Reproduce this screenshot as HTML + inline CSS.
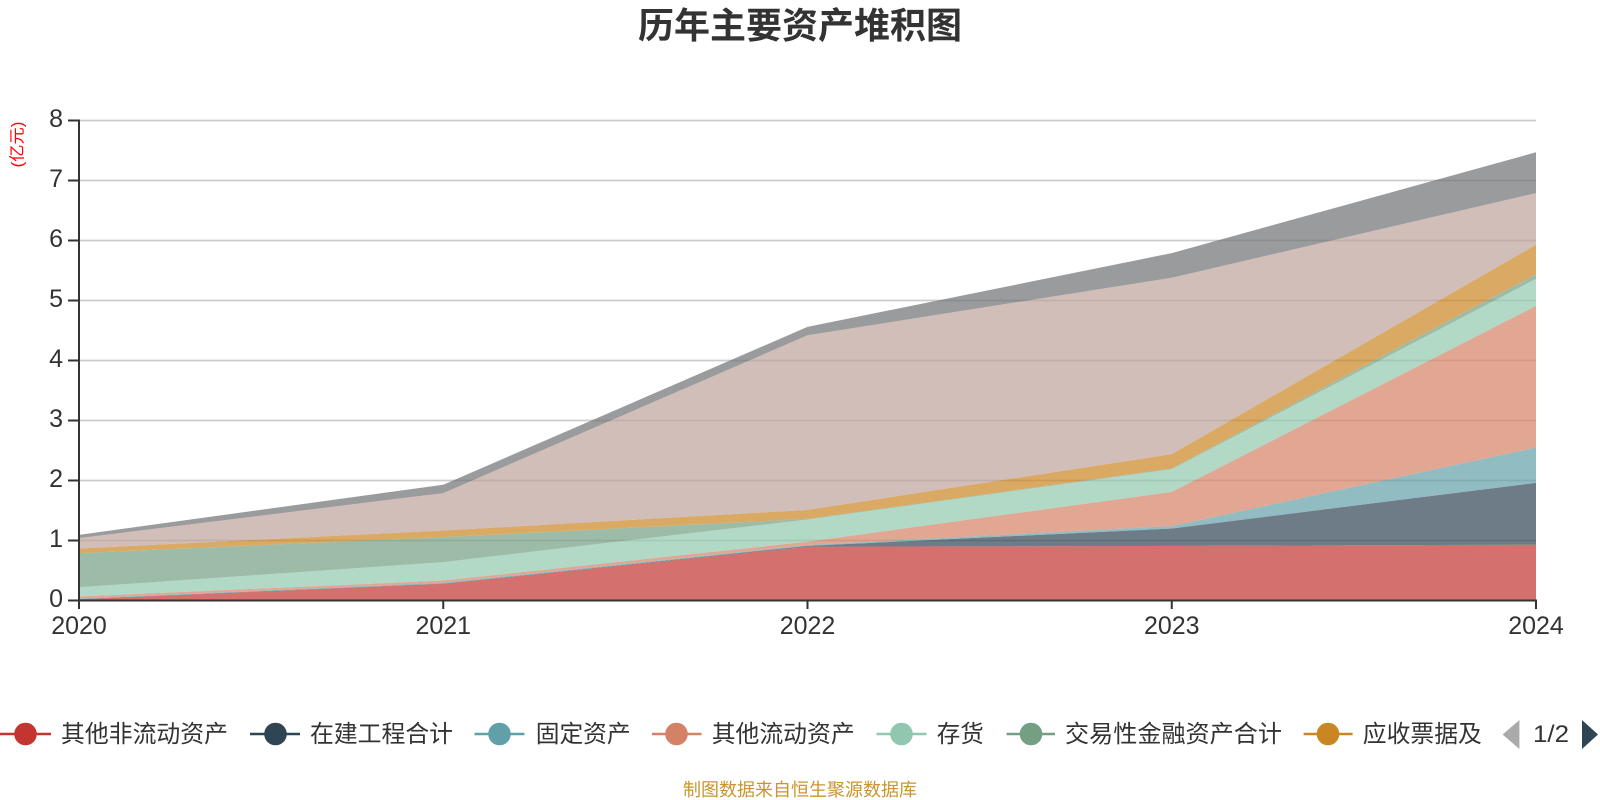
<!DOCTYPE html>
<html><head><meta charset="utf-8"><style>
html,body{margin:0;padding:0;background:#fff;}
svg{display:block;}
</style></head><body>
<svg width="1600" height="800" viewBox="0 0 1600 800" xmlns="http://www.w3.org/2000/svg">
<rect width="1600" height="800" fill="#fff"/>
<text x="800" y="38" text-anchor="middle" font-family="'Liberation Sans','Noto Sans CJK SC',sans-serif" font-size="36" font-weight="bold" fill="#333">历年主要资产堆积图</text>
<text transform="translate(22.5,144.5) rotate(-90)" text-anchor="middle" font-family="'Liberation Sans','Noto Sans CJK SC',sans-serif" font-size="16" fill="#ff0000" textLength="46" lengthAdjust="spacingAndGlyphs">(亿元)</text>
<g stroke="#ccc" stroke-width="1.8">
<line x1="79" y1="120.5" x2="1536" y2="120.5"/>
<line x1="79" y1="180.5" x2="1536" y2="180.5"/>
<line x1="79" y1="240.5" x2="1536" y2="240.5"/>
<line x1="79" y1="300.5" x2="1536" y2="300.5"/>
<line x1="79" y1="360.5" x2="1536" y2="360.5"/>
<line x1="79" y1="420.5" x2="1536" y2="420.5"/>
<line x1="79" y1="480.5" x2="1536" y2="480.5"/>
<line x1="79" y1="540.5" x2="1536" y2="540.5"/>
</g>
<g fill-opacity="0.7" stroke="none">
<polygon fill="#c23531" points="79,599.3 443.25,583.8 807.5,546.7 1171.75,545.9 1536,544.7 1536,600.5 79,600.5"/>
<polygon fill="#2f4554" points="79,599.0 443.25,583.5 807.5,545.9 1171.75,528.5 1536,482.9 1536,544.7 1171.75,545.9 807.5,546.7 443.25,583.8 79,599.3"/>
<polygon fill="#61a0a8" points="79,598.5 443.25,582.5 807.5,545.0 1171.75,526.1 1536,447.5 1536,482.9 1171.75,528.5 807.5,545.9 443.25,583.5 79,599.0"/>
<polygon fill="#d48265" points="79,596.5 443.25,580.5 807.5,541.7 1171.75,491.9 1536,305.9 1536,447.5 1171.75,526.1 807.5,545.0 443.25,582.5 79,598.5"/>
<polygon fill="#91c7ae" points="79,587.3 443.25,562.1 807.5,519.5 1171.75,469.1 1536,278.9 1536,305.9 1171.75,491.9 807.5,541.7 443.25,580.5 79,596.5"/>
<polygon fill="#749f83" points="79,553.1 443.25,537.1 807.5,518.9 1171.75,468.5 1536,274.1 1536,278.9 1171.75,469.1 807.5,519.5 443.25,562.1 79,587.3"/>
<polygon fill="#ca8622" points="79,548.5 443.25,530.5 807.5,509.9 1171.75,454.1 1536,244.7 1536,274.1 1171.75,468.5 807.5,518.9 443.25,537.1 79,553.1"/>
<polygon fill="#bda29a" points="79,538.1 443.25,493.1 807.5,335.3 1171.75,277.7 1536,193.1 1536,244.7 1171.75,454.1 807.5,509.9 443.25,530.5 79,548.5"/>
<polygon fill="#6e7074" points="79,534.9 443.25,484.7 807.5,326.9 1171.75,253.1 1536,152.3 1536,193.1 1171.75,277.7 807.5,335.3 443.25,493.1 79,538.1"/>
</g>
<g stroke="#333" stroke-width="2" fill="none">
<line x1="79" y1="119.5" x2="79" y2="601.5"/>
<line x1="78" y1="600.5" x2="1537" y2="600.5"/>
<line x1="68" y1="120.5" x2="79" y2="120.5"/>
<line x1="68" y1="180.5" x2="79" y2="180.5"/>
<line x1="68" y1="240.5" x2="79" y2="240.5"/>
<line x1="68" y1="300.5" x2="79" y2="300.5"/>
<line x1="68" y1="360.5" x2="79" y2="360.5"/>
<line x1="68" y1="420.5" x2="79" y2="420.5"/>
<line x1="68" y1="480.5" x2="79" y2="480.5"/>
<line x1="68" y1="540.5" x2="79" y2="540.5"/>
<line x1="68" y1="600.5" x2="79" y2="600.5"/>
<line x1="79" y1="600.5" x2="79" y2="609"/>
<line x1="443.25" y1="600.5" x2="443.25" y2="609"/>
<line x1="807.5" y1="600.5" x2="807.5" y2="609"/>
<line x1="1171.75" y1="600.5" x2="1171.75" y2="609"/>
<line x1="1536" y1="600.5" x2="1536" y2="609"/>
</g>
<g font-family="'Liberation Sans','Noto Sans CJK SC',sans-serif" font-size="25" fill="#333" text-anchor="end">
<text x="63" y="127">8</text>
<text x="63" y="187">7</text>
<text x="63" y="247">6</text>
<text x="63" y="307">5</text>
<text x="63" y="367">4</text>
<text x="63" y="427">3</text>
<text x="63" y="487">2</text>
<text x="63" y="547">1</text>
<text x="63" y="607">0</text>
</g>
<g font-family="'Liberation Sans','Noto Sans CJK SC',sans-serif" font-size="25" fill="#333" text-anchor="middle">
<text x="79" y="634">2020</text>
<text x="443.25" y="634">2021</text>
<text x="807.5" y="634">2022</text>
<text x="1171.75" y="634">2023</text>
<text x="1536" y="634">2024</text>
</g>
<g stroke-width="2.5">
<line x1="0" y1="734" x2="51" y2="734" stroke="#c23531"/>
<circle cx="25.5" cy="734" r="11.3" fill="#c23531"/>
<line x1="250" y1="734" x2="300" y2="734" stroke="#2f4554"/>
<circle cx="275.5" cy="734" r="11.3" fill="#2f4554"/>
<line x1="474.5" y1="734" x2="524.5" y2="734" stroke="#61a0a8"/>
<circle cx="499.5" cy="734" r="11.3" fill="#61a0a8"/>
<line x1="652" y1="734" x2="701.5" y2="734" stroke="#d48265"/>
<circle cx="676.5" cy="734" r="11.3" fill="#d48265"/>
<line x1="876.5" y1="734" x2="926.5" y2="734" stroke="#91c7ae"/>
<circle cx="901.5" cy="734" r="11.3" fill="#91c7ae"/>
<line x1="1006.6" y1="734" x2="1055" y2="734" stroke="#749f83"/>
<circle cx="1031" cy="734" r="11.3" fill="#749f83"/>
<line x1="1303.6" y1="734" x2="1352.6" y2="734" stroke="#ca8622"/>
<circle cx="1328" cy="734" r="11.3" fill="#ca8622"/>
</g>
<g font-family="'Liberation Sans','Noto Sans CJK SC',sans-serif" font-size="24" fill="#333">
<text x="61" y="742" textLength="167" lengthAdjust="spacingAndGlyphs">其他非流动资产</text>
<text x="310" y="742" textLength="143" lengthAdjust="spacingAndGlyphs">在建工程合计</text>
<text x="535.7" y="742" textLength="95" lengthAdjust="spacingAndGlyphs">固定资产</text>
<text x="711.7" y="742" textLength="143" lengthAdjust="spacingAndGlyphs">其他流动资产</text>
<text x="936.7" y="742" textLength="47" lengthAdjust="spacingAndGlyphs">存货</text>
<text x="1065" y="742" textLength="217" lengthAdjust="spacingAndGlyphs">交易性金融资产合计</text>
<text x="1362.8" y="742" textLength="119" lengthAdjust="spacingAndGlyphs">应收票据及</text>
<text x="1533" y="742" textLength="36" lengthAdjust="spacingAndGlyphs">1/2</text>
</g>
<polygon points="1502.6,734.5 1519.4,720 1519.4,749" fill="#aaa"/>
<polygon points="1598,734.5 1582,720 1582,749" fill="#2f4554"/>
<text x="800" y="796" text-anchor="middle" font-family="'Liberation Sans','Noto Sans CJK SC',sans-serif" font-size="18" fill="#c9952c">制图数据来自恒生聚源数据库</text>
</svg>
</body></html>
